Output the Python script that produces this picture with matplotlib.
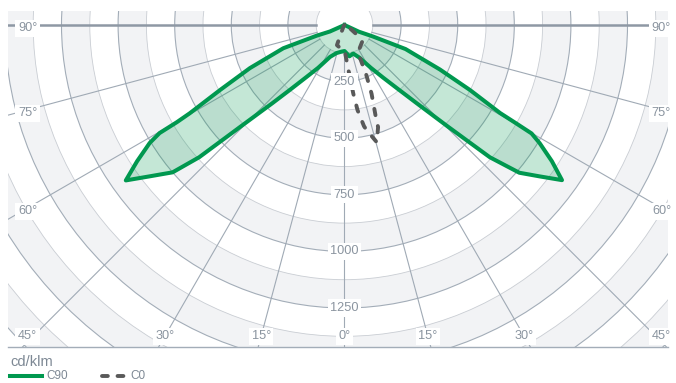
import numpy as np
import matplotlib
matplotlib.use("Agg")
import matplotlib.pyplot as plt
from matplotlib.patches import Circle
from matplotlib.lines import Line2D

plt.rcParams['font.family'] = ['Liberation Sans', 'DejaVu Sans']
plt.rcParams['lines.scale_dashes'] = False

# light distribution, angle from nadir in degrees (negative = left half), cd/klm
c90_ang = [-90, -66, -69, -69.2, -65.5, -62.4, -60.3, -59.9, -59.7, -58.8, -56.7, -54.6,
           -52.2, -49.4, -47.7, -45.7, -42.7, -40.0, -36.2, -31.6, -24.4, -16, -6, 0,
           9, 17, 24.4, 31.6, 36.2, 40.0, 42.7, 45.5, 47.7, 49.8, 52.2, 54.5,
           56.7, 58.8, 59.9, 60.2, 60.5, 62.6, 65.0, 68.5, 68.0, 65, 90]
c90_val = [0, 70, 132, 289, 459, 621, 787, 856, 946, 1006, 1096, 1185,
           1091, 1000, 868, 646, 470, 372, 285, 222, 155, 129, 118, 115,
           140, 132, 158, 222, 287, 372, 470, 640, 868, 1011, 1091, 1180,
           1096, 1008, 955, 870, 790, 625, 465, 290, 135, 70, 0]

c0_ang = [-90, -40, -27, -22, -20.6, -10, 0, 5.4, 7.3, 8.7, 10.9, 11.9, 15.4,
          18.2, 18.7, 21.5, 23.7, 25.2, 26.6, 46, 52, 60, 75, 90]
c0_val = [0, 5, 15, 52, 95, 104, 110, 213, 305, 380, 455, 475, 537,
          475, 434, 326, 237, 161, 134, 108, 70, 25, 5, 0]

ring_labels = [250, 500, 750, 1000, 1250]
angle_ticks = [-90, -75, -60, -45, -30, -15, 0, 15, 30, 45, 60, 75, 90]

green = '#00984f'
dash_col = '#595959'
band_grey = '#f2f3f5'
major_col = '#a3adb8'
minor_col = '#c9cdd3'
label_col = '#8a949f'


def to_xy(ang, val):
    a = np.radians(ang)
    v = np.asarray(val, dtype=float)
    return v * np.sin(a), -v * np.cos(a)


fig = plt.figure(figsize=(6.76, 3.83), dpi=100)
ax = fig.add_axes([8 / 676, 36 / 383, 660 / 676, 336 / 383])
px = 56.6 / 250  # pixels per cd/klm
ax.set_xlim(-336.5 / px, 323.5 / px)
ax.set_ylim(-322 / px, 14 / px)
ax.set_xticks([])
ax.set_yticks([])
for s in ['left', 'right', 'top']:
    ax.spines[s].set_visible(False)
ax.spines['bottom'].set_color(major_col)
ax.spines['bottom'].set_linewidth(1.0)

# alternating bands
for r in np.arange(2250, 0, -125):
    fc = band_grey if r % 250 == 0 else 'white'
    ax.add_patch(Circle((0, 0), r, fc=fc, ec='none', zorder=0))
for r in np.arange(125, 2250, 125):
    major = r % 250 == 0
    ax.add_patch(Circle((0, 0), r, fill=False, ec=major_col if major else minor_col,
                        lw=0.8 if major else 0.6, zorder=1))

# radial lines
for a in angle_ticks:
    xs, ys = to_xy([a, a], [125, 3000])
    if abs(a) == 90:
        ax.plot(xs, ys, color='#8e98a4', lw=1.8, zorder=1)
    else:
        ax.plot(xs, ys, color='#a0aab5', lw=0.8, zorder=1)

box = dict(boxstyle='square,pad=0.2', fc='white', ec='none')
for v in ring_labels:
    ax.text(0, -v, str(v), ha='center', va='center', fontsize=9.2, color=label_col,
            bbox=box, zorder=6)

side_x = 1400
bottom_y = -1374
for a in angle_ticks:
    t = np.radians(abs(a))
    if abs(a) >= 45:
        x = side_x * np.sign(a)
        y = max(-side_x / np.tan(t), bottom_y)
        if abs(a) != 45:
            y -= 14
    else:
        y = bottom_y
        x = -bottom_y * np.tan(t) * np.sign(a)
    ax.text(x, y, f'{abs(a)}°', ha='center', va='center', fontsize=9.2, color=label_col,
            bbox=box, zorder=6)

# curves
x90, y90 = to_xy(c90_ang, c90_val)
ax.fill(x90, y90, color=green, alpha=0.23, lw=0, zorder=3)
ax.plot(x90, y90, color=green, lw=2.9, solid_joinstyle='round', zorder=4)

x0, y0 = to_xy(c0_ang, c0_val)
ax.plot(x0, y0, color=dash_col, lw=2.8, dashes=(4.6, 8.0), dash_capstyle='round',
        zorder=5)

# legend
def fx(p):
    return p / 676


def fy(p):
    return 1 - p / 383


fig.text(fx(10), fy(362), 'cd/klm', ha='left', va='center', fontsize=10.5, color='#7d8894')
fig.add_artist(Line2D([fx(10), fx(42)], [fy(376)] * 2, color=green, lw=2.9))
fig.text(fx(46), fy(376), 'C90', ha='left', va='center', fontsize=8.5, color='#7d8894')
fig.add_artist(Line2D([fx(102), fx(124)], [fy(376)] * 2, color=dash_col, lw=2.8,
                      dashes=(4.2, 7.0), dash_capstyle='round'))
fig.text(fx(130), fy(376), 'C0', ha='left', va='center', fontsize=8.5, color='#7d8894')

fig.savefig('out.png', dpi=100)
